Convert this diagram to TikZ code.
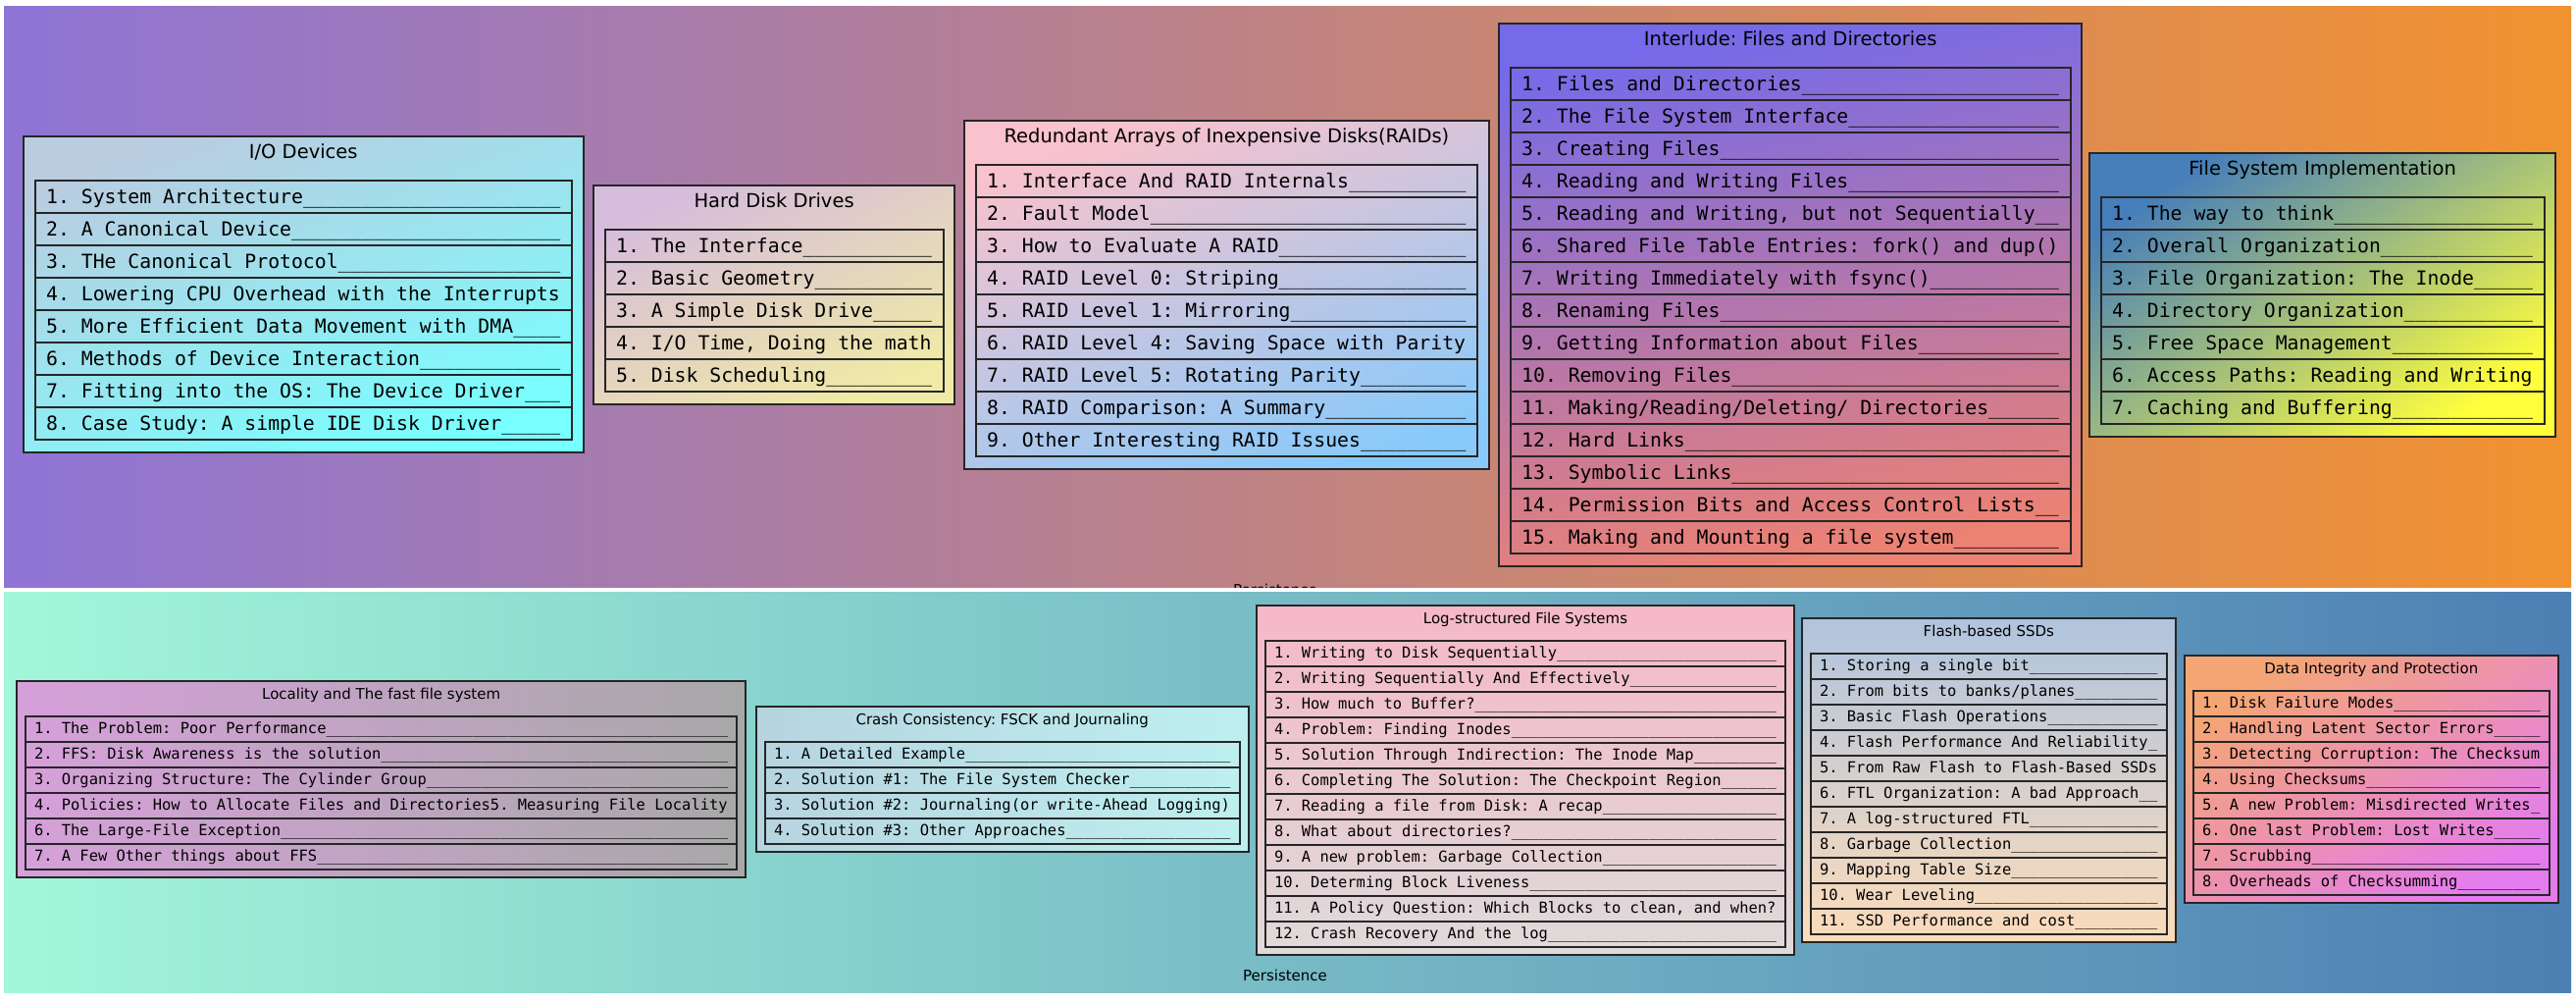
\documentclass[tikz,border=0pt]{standalone}
\usepackage{fontspec}
\setmainfont{DejaVu Sans}
\newfontfamily\topicfont{DejaVu Sans Mono}
\frenchspacing

\definecolor{upperA}{RGB}{142,116,214}
\definecolor{upperB}{RGB}{242,146,47}
\definecolor{lowerA}{RGB}{162,247,217}
\definecolor{lowerB}{RGB}{77,127,179}
\definecolor{ioA}{RGB}{186,204,224}
\definecolor{ioB}{RGB}{120,255,255}
\definecolor{hddA}{RGB}{214,188,220}
\definecolor{hddB}{RGB}{240,234,166}
\definecolor{raidA}{RGB}{250,194,204}
\definecolor{raidB}{RGB}{138,202,250}
\definecolor{interA}{RGB}{116,106,234}
\definecolor{interB}{RGB}{238,130,114}
\definecolor{fsiA}{RGB}{70,126,186}
\definecolor{fsiB}{RGB}{255,255,60}
\definecolor{locA}{RGB}{214,160,218}
\definecolor{locB}{RGB}{168,168,168}
\definecolor{crashA}{RGB}{182,212,224}
\definecolor{crashB}{RGB}{190,240,240}
\definecolor{lfsA}{RGB}{246,184,200}
\definecolor{lfsB}{RGB}{222,218,218}
\definecolor{ssdA}{RGB}{176,196,222}
\definecolor{ssdB}{RGB}{252,220,186}
\definecolor{integA}{RGB}{244,166,116}
\definecolor{integB}{RGB}{228,124,238}

\tikzset{
  chapterbox/.style={draw=black!85, line width=2pt},
  topicrow/.style={draw=black!85, line width=2pt, anchor=north west, inner ysep=0pt, outer sep=0pt},
  chaptertitle/.style={anchor=base, inner sep=0pt},
  panellabel/.style={anchor=base, inner sep=0pt, font=\fontsize{15}{18}\selectfont},
  ioshade/.style={top color=ioA, bottom color=ioB, shading angle=20},
  hddshade/.style={top color=hddA, bottom color=hddB, shading angle=25},
  raidshade/.style={top color=raidA, bottom color=raidB, shading angle=20},
  intershade/.style={top color=interA, bottom color=interB, shading angle=10},
  fsishade/.style={top color=fsiA, bottom color=fsiB, shading angle=35},
  locshade/.style={left color=locA, right color=locB},
  crashshade/.style={left color=crashA, right color=crashB},
  lfsshade/.style={top color=lfsA, bottom color=lfsB},
  ssdshade/.style={top color=ssdA, bottom color=ssdB},
  integshade/.style={top color=integA, bottom color=integB, shading angle=35}
}

\newcommand{\upperrow}{%
  \def\charw{11.9}\def\rowh{33}\def\rowpad{11.7}\def\boxpad{11.5}%
  \def\titleh{45}\def\botpad{13}\def\titlebase{22}\def\textht{23}%
  \def\titlefont{\fontsize{19.5}{22}\selectfont}%
  \def\rowfont{\topicfont\fontsize{19.766}{22}\selectfont}}
\newcommand{\lowerrow}{%
  \def\charw{9.3}\def\rowh{26}\def\rowpad{9}\def\boxpad{9}%
  \def\titleh{36}\def\botpad{8}\def\titlebase{18}\def\textht{17.3}%
  \def\titlefont{\fontsize{15}{18}\selectfont}%
  \def\rowfont{\topicfont\fontsize{15.447}{18}\selectfont}}

\newcommand{\padded}[1]{\hbox to \textw{#1\xleaders\hbox{\_}\hfill}}

\newcommand{\chapbox}[7]{%
  \pgfmathsetmacro\boxw{#5*\charw+2*\rowpad+2*\boxpad+0.5}%
  \pgfmathsetlengthmacro\textw{#5*\charw+0.5}%
  \pgfmathsetlengthmacro\rowht{\textht}%
  \pgfmathsetlengthmacro\rowdp{\rowh-\textht}%
  \pgfmathsetlengthmacro\padx{\rowpad}%
  \foreach \topic [count=\i] in {#7} {\xdef\nrows{\i}}%
  \pgfmathsetmacro\boxh{\titleh+\nrows*\rowh+\botpad}%
  \path[chapterbox, #1] (#3,#4) rectangle ++(\boxw,\boxh);
  \node[chaptertitle, font=\titlefont] (#2-title) at (#3+\boxw/2, #4+\titlebase) {#6};
  \foreach \topic [count=\i] in {#7} {
    \node[topicrow, font=\rowfont, inner xsep=\padx, text height=\rowht, text depth=\rowdp]
      (#2-\i) at (#3+\boxpad, #4+\titleh+\rowh*\i-\rowh) {\padded{\topic}};
  }%
}

\begin{document}
\begin{tikzpicture}[x=1pt,y=-1pt]
  \fill[white] (0,0) rectangle (2626,1020);
  \useasboundingbox (0,0) rectangle (2626,1020);

  \path[left color=upperA, right color=upperB] (4,6) rectangle (2621,598);
  \begin{scope}
    \clip (4,6) rectangle (2621,598);
    \node[panellabel] (upper-label) at (1300,606) {Persistence};
  \end{scope}
  \path[left color=lowerA, right color=lowerB] (4,603) rectangle (2621,1011);
  \node[panellabel] (lower-label) at (1310,999) {Persistence};

  \upperrow
  \chapbox{ioshade}{io}{24}{139}{44}{I/O Devices}{
    {1. System Architecture}, {2. A Canonical Device}, {3. THe Canonical Protocol},
    {4. Lowering CPU Overhead with the Interrupts}, {5. More Efficient Data Movement with DMA},
    {6. Methods of Device Interaction}, {7. Fitting into the OS: The Device Driver},
    {8. Case Study: A simple IDE Disk Driver}}
  \chapbox{hddshade}{hdd}{605}{189}{27}{Hard Disk Drives}{
    {1. The Interface}, {2. Basic Geometry}, {3. A Simple Disk Drive},
    {4. I/O Time, Doing the math}, {5. Disk Scheduling}}
  \chapbox{raidshade}{raid}{983}{123}{41}{Redundant Arrays of Inexpensive Disks(RAIDs)}{
    {1. Interface And RAID Internals}, {2. Fault Model}, {3. How to Evaluate A RAID},
    {4. RAID Level 0: Striping}, {5. RAID Level 1: Mirroring},
    {6. RAID Level 4: Saving Space with Parity}, {7. RAID Level 5: Rotating Parity},
    {8. RAID Comparison: A Summary}, {9. Other Interesting RAID Issues}}
  \chapbox{intershade}{inter}{1528}{24}{46}{Interlude: Files and Directories}{
    {1. Files and Directories}, {2. The File System Interface}, {3. Creating Files},
    {4. Reading and Writing Files}, {5. Reading and Writing, but not Sequentially},
    {6. Shared File Table Entries: fork() and dup()}, {7. Writing Immediately with fsync()},
    {8. Renaming Files}, {9. Getting Information about Files}, {10. Removing Files},
    {11. Making/Reading/Deleting/ Directories}, {12. Hard Links}, {13. Symbolic Links},
    {14. Permission Bits and Access Control Lists}, {15. Making and Mounting a file system}}
  \chapbox{fsishade}{fsi}{2130}{156}{36}{File System Implementation}{
    {1. The way to think}, {2. Overall Organization}, {3. File Organization: The Inode},
    {4. Directory Organization}, {5. Free Space Management},
    {6. Access Paths: Reading and Writing}, {7. Caching and Buffering}}

  \lowerrow
  \chapbox{locshade}{loc}{17}{694}{76}{Locality and The fast file system}{
    {1. The Problem: Poor Performance}, {2. FFS: Disk Awareness is the solution},
    {3. Organizing Structure: The Cylinder Group},
    {4. Policies: How to Allocate Files and Directories5. Measuring File Locality},
    {6. The Large-File Exception}, {7. A Few Other things about FFS}}
  \chapbox{crashshade}{crash}{771}{720}{50}{Crash Consistency: FSCK and Journaling}{
    {1. A Detailed Example}, {2. Solution \#1: The File System Checker},
    {3. Solution \#2: Journaling(or write-Ahead Logging)}, {4. Solution \#3: Other Approaches}}
  \chapbox{lfsshade}{lfs}{1281}{617}{55}{Log-structured File Systems}{
    {1. Writing to Disk Sequentially}, {2. Writing Sequentially And Effectively},
    {3. How much to Buffer?}, {4. Problem: Finding Inodes},
    {5. Solution Through Indirection: The Inode Map},
    {6. Completing The Solution: The Checkpoint Region},
    {7. Reading a file from Disk: A recap}, {8. What about directories?},
    {9. A new problem: Garbage Collection}, {10. Determing Block Liveness},
    {11. A Policy Question: Which Blocks to clean, and when?}, {12. Crash Recovery And the log}}
  \chapbox{ssdshade}{ssd}{1837}{630}{37}{Flash-based SSDs}{
    {1. Storing a single bit}, {2. From bits to banks/planes}, {3. Basic Flash Operations},
    {4. Flash Performance And Reliability}, {5. From Raw Flash to Flash-Based SSDs},
    {6. FTL Organization: A bad Approach}, {7. A log-structured FTL}, {8. Garbage Collection},
    {9. Mapping Table Size}, {10. Wear Leveling}, {11. SSD Performance and cost}}
  \chapbox{integshade}{integ}{2227}{668}{37}{Data Integrity and Protection}{
    {1. Disk Failure Modes}, {2. Handling Latent Sector Errors},
    {3. Detecting Corruption: The Checksum}, {4. Using Checksums},
    {5. A new Problem: Misdirected Writes}, {6. One last Problem: Lost Writes},
    {7. Scrubbing}, {8. Overheads of Checksumming}}
\end{tikzpicture}
\end{document}
